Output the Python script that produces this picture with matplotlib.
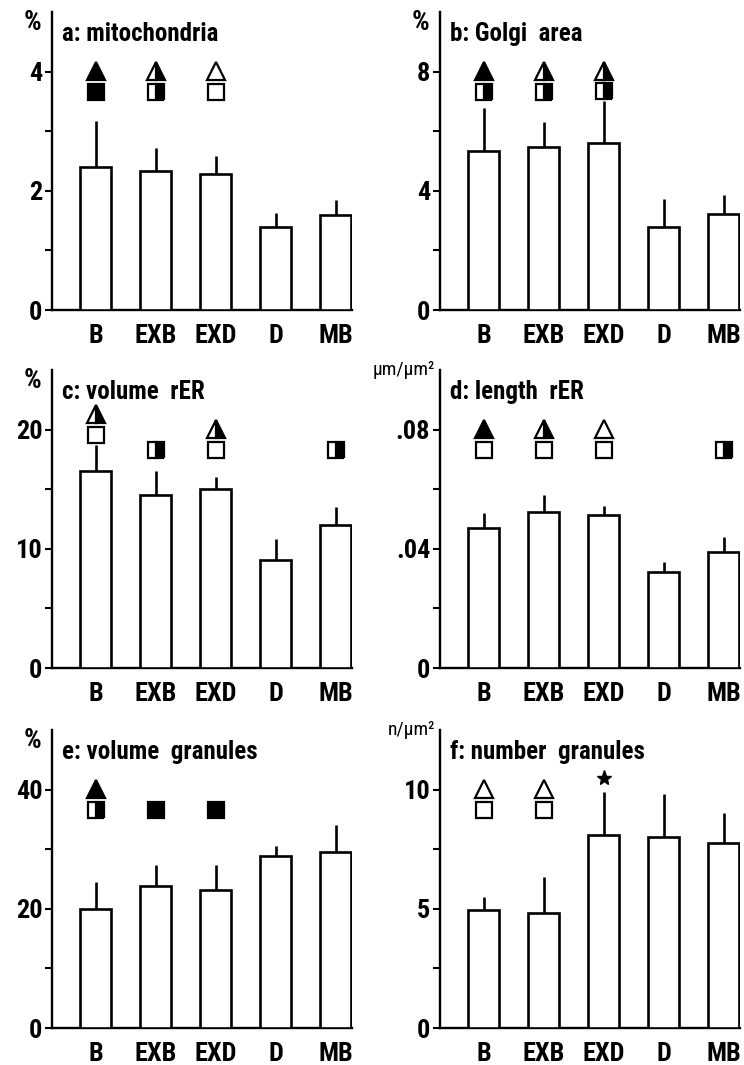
import matplotlib
matplotlib.use("Agg")
import matplotlib.pyplot as plt
import matplotlib.transforms as mtrans
import numpy as np

plt.rcParams['font.family'] = ['Roboto Condensed', 'Liberation Sans Narrow', 'Liberation Sans', 'DejaVu Sans']
plt.rcParams['font.weight'] = 'bold'

# kategoriler
cats = ['B', 'EXB', 'EXD', 'D', 'MB']

# a: mitochondria
mito = [2.4, 2.33, 2.28, 1.4, 1.6]
mito_err = [0.77, 0.39, 0.30, 0.22, 0.25]
mito_tri = ['full', 'half', 'open', None, None]
mito_sq = ['full', 'half', 'open', None, None]

# b: Golgi area
golgi = [5.33, 5.47, 5.6, 2.8, 3.23]
golgi_err = [1.44, 0.83, 1.4, 0.93, 0.64]
golgi_tri = ['full', 'half', 'half', None, None]
golgi_sq = ['half', 'half', 'half', None, None]

# c: volume rER
vrer = [16.5, 14.5, 15.0, 9.1, 12.0]
vrer_err = [2.2, 2.0, 1.0, 1.7, 1.5]
vrer_tri = ['half', None, 'half', None, None]
vrer_sq = ['open', 'half', 'open', None, 'half']

# d: length rER
lrer = [0.047, 0.0523, 0.0513, 0.0323, 0.039]
lrer_err = [0.005, 0.0057, 0.003, 0.0034, 0.005]
lrer_tri = ['full', 'half', 'open', None, None]
lrer_sq = ['open', 'open', 'open', None, 'half']

# e: volume granules
vgran = [20.0, 23.8, 23.2, 28.8, 29.6]
vgran_err = [4.5, 3.6, 4.2, 1.8, 4.4]
vgran_tri = ['full', None, None, None, None]
vgran_sq = ['half', 'full', 'full', None, None]

# f: number granules
ngran = [4.96, 4.83, 8.08, 8.0, 7.75]
ngran_err = [0.54, 1.5, 1.8, 1.8, 1.25]
ngran_tri = ['open', 'open', None, None, None]
ngran_sq = ['open', 'open', None, None, None]
ngran_star = [False, False, True, False, False]

panels = [
    # (baslik, birim, degerler, hatalar, ucgen, kare, yildiz, ylim, major, minor, etiketler)
    ("a: mitochondria", "%", mito, mito_err, mito_tri, mito_sq, None,
     5, [0, 2, 4], [1, 3], ['0', '2', '4']),
    ("b: Golgi  area", "%", golgi, golgi_err, golgi_tri, golgi_sq, None,
     10, [0, 4, 8], [2, 6], ['0', '4', '8']),
    ("c: volume  rER", "%", vrer, vrer_err, vrer_tri, vrer_sq, None,
     25, [0, 10, 20], [5, 15], ['0', '10', '20']),
    ("d: length  rER", "μm/μm²", lrer, lrer_err, lrer_tri, lrer_sq, None,
     0.1, [0, 0.04, 0.08], [0.02, 0.06], ['0', '.04', '.08']),
    ("e: volume  granules", "%", vgran, vgran_err, vgran_tri, vgran_sq, None,
     50, [0, 20, 40], [10, 30], ['0', '20', '40']),
    ("f: number  granules", "n/μm²", ngran, ngran_err, ngran_tri, ngran_sq, ngran_star,
     12.5, [0, 5, 10], [2.5, 7.5], ['0', '5', '10']),
]

W, H = 744, 1065
fig = plt.figure(figsize=(W / 100, H / 100), dpi=100)

lefts = [52, 440]
rows = [(12, 310), (370, 668), (730, 1028)]


def draw_marker(ax, x, y, kind, shape, ms):
    trans = mtrans.blended_transform_factory(ax.transData, ax.transAxes)
    kw = dict(marker=shape, markersize=ms, markeredgecolor='black',
              markeredgewidth=1.6, linestyle='none', transform=trans, clip_on=False)
    if kind == 'full':
        ax.plot([x], [y], markerfacecolor='black', **kw)
    elif kind == 'half':
        ax.plot([x], [y], fillstyle='right', markerfacecolor='black',
                markerfacecoloralt='white', **kw)
    elif kind == 'open':
        ax.plot([x], [y], markerfacecolor='white', **kw)


for i, (title, unit, vals, errs, tri, sq, star, ytop, major, minor, labels) in enumerate(panels):
    col = i % 2
    top, bot = rows[i // 2]
    left = lefts[col]
    ax = fig.add_axes([left / W, 1 - bot / H, 300 / W, (bot - top) / H])

    x = np.arange(len(cats))
    ax.bar(x, vals, width=0.52, color='white', edgecolor='black', linewidth=1.9, zorder=3)
    ax.errorbar(x, vals, yerr=[np.zeros(len(vals)), errs], fmt='none',
                ecolor='black', elinewidth=1.9, capsize=0, zorder=2)

    ax.set_xlim(-0.73, 4.27)
    ax.set_ylim(0, ytop)
    ax.set_xticks(x)
    ax.set_xticklabels(cats, fontsize=19)
    ax.tick_params(axis='x', length=0, pad=10)
    ax.set_yticks(major)
    ax.set_yticklabels(labels, fontsize=19)
    ax.set_yticks(minor, minor=True)
    ax.tick_params(axis='y', which='both', direction='out', length=5, width=1.5, pad=2)

    for s in ['top', 'right']:
        ax.spines[s].set_visible(False)
    ax.spines['left'].set_linewidth(1.7)
    ax.spines['bottom'].set_linewidth(1.7)

    # isaretler
    for j in range(len(cats)):
        err_top = (vals[j] + errs[j]) / ytop
        sq_y = max(0.733, err_top + 0.035)
        if sq[j] is not None:
            draw_marker(ax, j, sq_y, sq[j], 's', 11)
        if tri[j] is not None:
            tri_y = sq_y + 0.068 if sq[j] is not None else 0.80
            draw_marker(ax, j, tri_y, tri[j], '^', 12.5)
        if star is not None and star[j]:
            trans = mtrans.blended_transform_factory(ax.transData, ax.transAxes)
            ax.plot([j], [max(0.80, err_top + 0.05)], marker='*', markersize=11,
                    color='black', transform=trans, clip_on=False)

    ax.text(0.035, 0.925, title, transform=ax.transAxes, fontsize=18,
            ha='left', va='center')
    if unit == '%':
        ax.text(-0.035, 0.965, unit, transform=ax.transAxes, fontsize=20,
                ha='right', va='center')
    else:
        ax.text(-0.015, 1.0, unit, transform=ax.transAxes, fontsize=14,
                fontweight='normal', ha='right', va='center')

fig.savefig("out.png", dpi=100)
